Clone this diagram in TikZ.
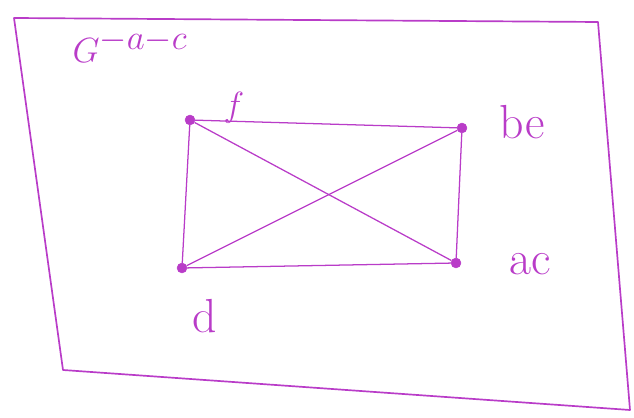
\documentclass[tikz,border=0pt]{standalone}
\usepackage{xcolor}
\usetikzlibrary{positioning}
\definecolor{pen}{RGB}{185,60,200}

\begin{document}
\begin{tikzpicture}[
    x=0.025cm, y=-0.025cm,
    vertex/.style={circle, fill=pen, draw=pen, inner sep=0pt, minimum size=7pt},
    lbl/.style={text=pen, font=\fontsize{34}{38}\selectfont, inner sep=1pt},
    edge/.style={draw=pen, line width=0.9pt},
    frame/.style={draw=pen, line width=1.2pt, line join=round}
]
    \useasboundingbox (0,0) rectangle (634,418);

    % outer frame
    \draw[frame] (14,18) -- (598,22) -- (630,410) -- (63,370) -- cycle;

    % graph title
    \node[lbl, font=\fontsize{40}{44}\selectfont] (title) at (130,46) {$G^{-a-c}$};

    % vertices
    \node[vertex] (f)  at (190,120) {};
    \node[vertex] (be) at (462,128) {};
    \node[vertex] (ac) at (456,263) {};
    \node[vertex] (d)  at (182,268) {};

    % vertex names
    \node[lbl] (lf)  at (234,108) {$f$};
    \node[lbl] (lbe) at (522,122) {be};
    \node[lbl] (lac) at (530,264) {ac};
    \node[lbl] (ld)  at (205,316) {d};

    \draw[edge] (f) -- (be);
    \draw[edge] (f) -- (d);
    \draw[edge] (be) -- (ac);
    \draw[edge] (d) -- (ac);
    \draw[edge] (f) -- (ac);
    \draw[edge] (d) -- (be);
\end{tikzpicture}
\end{document}
